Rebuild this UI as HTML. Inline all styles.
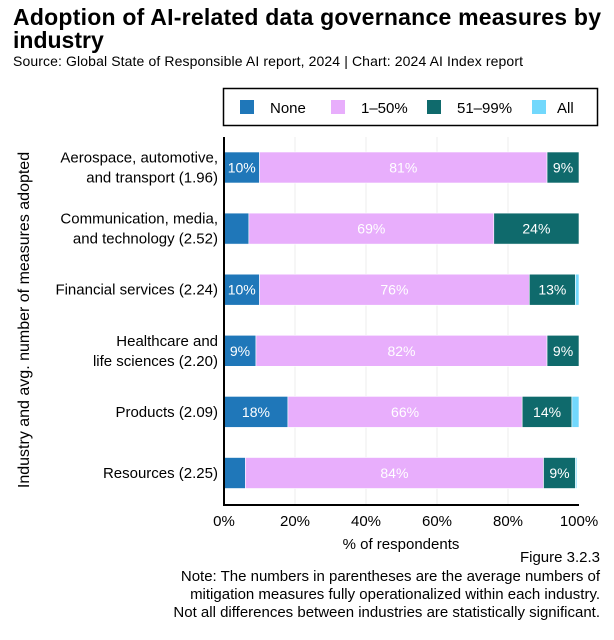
<!DOCTYPE html>
<html><head><meta charset="utf-8"><style>
body{margin:0;width:614px;height:635px;background:#fff;font-family:"Liberation Sans",sans-serif;color:#111;overflow:hidden}
svg text{font-family:"Liberation Sans",sans-serif}
</style></head><body>
<svg id="c" width="614" height="635" xmlns="http://www.w3.org/2000/svg">
<text x="13" y="25" font-size="23" font-weight="bold" textLength="588">Adoption of AI-related data governance measures by</text>
<text x="13" y="48" font-size="23" font-weight="bold">industry</text>
<text x="13" y="66" font-size="14" textLength="510">Source: Global State of Responsible AI report, 2024 | Chart: 2024 AI Index report</text>
<g id="legend">
<rect x="223.5" y="88.5" width="374" height="37" fill="#fff" stroke="#000" stroke-width="1.5"/>
</g>
<g id="grid"></g><g id="bars"></g><g id="labels"></g>
<text transform="translate(29,320) rotate(-90)" text-anchor="middle" font-size="16">Industry and avg. number of measures adopted</text>
<text x="401" y="549" text-anchor="middle" font-size="15">% of respondents</text>
<text x="600" y="562" text-anchor="end" font-size="15">Figure 3.2.3</text>
<text x="600" y="581" text-anchor="end" font-size="15">Note: The numbers in parentheses are the average numbers of</text>
<text x="600" y="599" text-anchor="end" font-size="15">mitigation measures fully operationalized within each industry.</text>
<text x="600" y="617" text-anchor="end" font-size="15">Not all differences between industries are statistically significant.</text>
</svg>
<script>
const categories=[["Aerospace, automotive,","and transport (1.96)"],["Communication, media,","and technology (2.52)"],["Financial services (2.24)"],["Healthcare and","life sciences (2.20)"],["Products (2.09)"],["Resources (2.25)"]];
const seriesNames=["None","1–50%","51–99%","All"];
const noneVals=[10,7,10,9,18,6];
const lowVals=[81,69,76,82,66,84];
const highVals=[9,24,13,9,14,9];
const allVals=[0,0,1,0,2,0.4];
const showLabel=[[true,true,true,false],[false,true,true,false],[true,true,true,false],[true,true,true,false],[true,true,true,false],[false,true,true,false]];
const xTicks=[0,20,40,60,80,100];
const colors=["#1f77b9","#e8aefc","#0f6a6c","#72d8fc"];
const NS="http://www.w3.org/2000/svg";
const x0=224,x1=579,yTop=137,yBot=505;
const xs=v=>x0+(x1-x0)*v/100;
const rowH=61.1;
const yc=i=>167.5+rowH*i;
function mk(t,a,p){const e=document.createElementNS(NS,t);for(const k in a)e.setAttribute(k,a[k]);p.appendChild(e);return e;}
const grid=document.getElementById('grid'),bars=document.getElementById('bars'),labels=document.getElementById('labels'),legend=document.getElementById('legend');
xTicks.forEach((t,i)=>{
 if(t>0&&t<100){const g=mk('line',{x1:xs(t),x2:xs(t),y1:yTop,y2:yBot,stroke:'#eee'},grid);
 
 }
 const tl=mk('text',{x:xs(t),y:526,'text-anchor':'middle','font-size':15},grid);tl.textContent=t+'%';
 
 
});
const series=[noneVals,lowVals,highVals,allVals];
categories.forEach((c,i)=>{
 let acc=0;const cy=yc(i);
 series.forEach((s,j)=>{
  const v=s[i];
  const r=mk('rect',{x:xs(acc),y:cy-15.5,width:Math.max(0,xs(acc+v)-xs(acc)),height:31,fill:colors[j],stroke:'#fff','stroke-width':0.6},bars);
  
  
  if(showLabel[i][j]&&v>0){const t=mk('text',{x:(xs(acc)+xs(acc+v))/2,y:cy+5,'text-anchor':'middle','font-size':14,fill:'#fff'},labels);t.textContent=Math.round(v)+'%';
   
   }
  acc+=v;
 });
 c.forEach((ln,k)=>{
  const t=mk('text',{x:218,y:cy+5+(k-(c.length-1)/2)*20,'text-anchor':'end','font-size':15},labels);t.textContent=ln;
  
  
 });
});
const ax=mk('path',{d:`M${x0},${yTop} V${yBot} H${x1}`,fill:'none',stroke:'#000','stroke-width':2},labels);


const lx=[240,331,427,532];
seriesNames.forEach((n,j)=>{
 const r=mk('rect',{x:lx[j],y:100,width:14,height:14,fill:colors[j]},legend);
 
 
 const t=mk('text',{x:lx[j]+(j==3?25:30),y:113,'font-size':15},legend);t.textContent=n;
 
 
});
</script>
</body></html>
